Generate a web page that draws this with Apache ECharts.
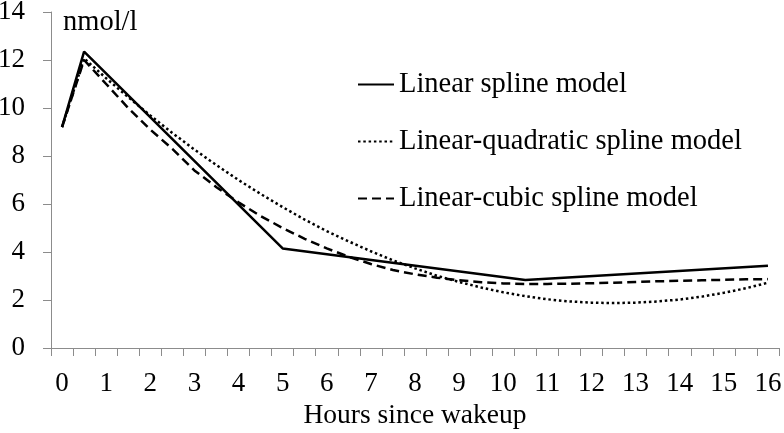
<!DOCTYPE html>
<html>
<head>
<meta charset="utf-8">
<script src="https://cdn.jsdelivr.net/npm/echarts@6/dist/echarts.min.js"></script>
<style>
  html, body { margin: 0; padding: 0; background: #fff; }
  #chart { width: 784px; height: 433px; }
</style>
</head>
<body>
<div id="chart"></div>
<script>
// hours since wakeup, half-hour categories
const hours = ['0', '0.5', '1', '1.5', '2', '2.5', '3', '3.5', '4', '4.5', '5', '5.5',
  '6', '6.5', '7', '7.5', '8', '8.5', '9', '9.5', '10', '10.5', '11', '11.5',
  '12', '12.5', '13', '13.5', '14', '14.5', '15', '15.5', '16']

// linear spline: values only at the knots (0, 0.5, 5, 10.5, 16)
const linearSpline = [9.2, 12.35, null, null, null, null, null, null, null, null, 4.15,
  null, null, null, null, null, null, null, null, null, null, 2.83,
  null, null, null, null, null, null, null, null, null, null, 3.43]

const linearQuadratic = [9.2, 12.07, 11.24, 10.45, 9.69, 8.96, 8.27, 7.62, 7.0, 6.42, 5.87,
  5.35, 4.87, 4.44, 4.03, 3.65, 3.32, 3.01, 2.75, 2.52, 2.32, 2.16,
  2.03, 1.94, 1.89, 1.87, 1.89, 1.94, 2.02, 2.14, 2.3, 2.49, 2.72]

const linearCubic = [9.2, 12.0, 11.0, 10.0, 9.1, 8.3, 7.4, 6.7, 6.07, 5.5, 5.0,
  4.55, 4.15, 3.8, 3.5, 3.25, 3.07, 2.93, 2.82, 2.74, 2.69, 2.67,
  2.67, 2.68, 2.7, 2.72, 2.75, 2.78, 2.8, 2.82, 2.84, 2.86, 2.87]

const font = 'Liberation Serif'
const axisGrey = '#8c8c8c'

const chart = echarts.init(document.getElementById('chart'))

chart.setOption({
  animation: false,
  textStyle: { fontFamily: font },
  grid: {
    left: 51,
    right: 5,
    top: 12,
    bottom: 85,
    outerBoundsMode: 'none'
  },
  graphic: [
    {
      type: 'text',
      left: 63,
      top: 8,
      style: { text: 'nmol/l', font: '28.5px "Liberation Serif"', fill: '#000' }
    }
  ],
  legend: {
    orient: 'vertical',
    left: 352,
    top: 65,
    itemWidth: 36,
    itemHeight: 14,
    itemGap: 28,
    itemStyle: { opacity: 0 },
    textStyle: { fontFamily: font, fontSize: 28.5, color: '#000' },
    data: ['Linear spline model', 'Linear-quadratic spline model', 'Linear-cubic spline model']
  },
  xAxis: {
    type: 'category',
    data: hours,
    boundaryGap: true,
    name: 'Hours since wakeup',
    nameLocation: 'middle',
    nameGap: 49,
    nameTextStyle: { fontFamily: font, fontSize: 27.5, color: '#000' },
    axisLine: { lineStyle: { color: axisGrey, width: 1 } },
    axisTick: { show: true, interval: 0, length: 8, lineStyle: { color: axisGrey } },
    axisLabel: { interval: 1, margin: 22, fontFamily: font, fontSize: 27, color: '#000' },
    splitLine: { show: false }
  },
  yAxis: {
    type: 'value',
    min: 0,
    max: 14,
    interval: 2,
    axisLine: { show: true, lineStyle: { color: axisGrey, width: 1 } },
    axisTick: { show: true, length: 8, lineStyle: { color: axisGrey } },
    axisLabel: { margin: 26, fontFamily: font, fontSize: 27, color: '#000' },
    splitLine: { show: false }
  },
  series: [
    {
      name: 'Linear spline model',
      type: 'line',
      data: linearSpline,
      connectNulls: true,
      symbol: 'none',
      itemStyle: { color: '#000' },
      lineStyle: { color: '#000', width: 2.5 },
      z: 3
    },
    {
      name: 'Linear-quadratic spline model',
      type: 'line',
      data: linearQuadratic,
      symbol: 'none',
      itemStyle: { color: '#000' },
      lineStyle: { color: '#000', width: 2.5, type: [2.5, 2.8] }
    },
    {
      name: 'Linear-cubic spline model',
      type: 'line',
      data: linearCubic,
      symbol: 'none',
      itemStyle: { color: '#000' },
      lineStyle: { color: '#000', width: 2.5, type: [9, 5] }
    }
  ]
})
</script>
</body>
</html>
